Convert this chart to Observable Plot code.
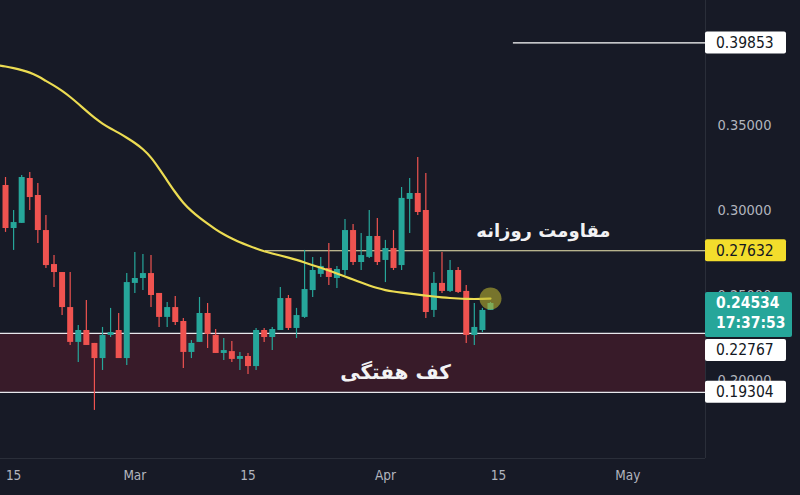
<!DOCTYPE html>
<html>
<head>
<meta charset="utf-8">
<script src="https://cdn.jsdelivr.net/npm/d3@7"></script>
<script src="https://cdn.jsdelivr.net/npm/@observablehq/plot@0.6"></script>
<style>
  html, body { margin: 0; padding: 0; background: #171a26; }
  #chart { width: 800px; height: 495px; overflow: hidden; }
</style>
</head>
<body>
<div id="chart"></div>
<script>
// ---- data ----
const firstDay = "2024-02-14";
const lastDayExclusive = "2024-04-15";
const open  = [0.3147,0.2894,0.2924,0.3188,0.3088,0.2882,0.2682,0.2635,0.2429,0.2224,0.2294,0.2218,0.2129,0.2265,0.2294,0.2129,0.2571,0.2600,0.2629,0.2512,0.2371,0.2429,0.2347,0.2165,0.2224,0.2394,0.2265,0.2159,0.2170,0.2124,0.2141,0.2082,0.2294,0.2253,0.2294,0.2482,0.2306,0.2371,0.2529,0.2624,0.2659,0.2600,0.2647,0.2882,0.2694,0.2724,0.2847,0.2706,0.2776,0.2676,0.3065,0.3100,0.3000,0.2412,0.2571,0.2524,0.2647,0.2524,0.2265,0.2294,0.2412];
const high  = [0.3194,0.3000,0.3206,0.3224,0.3159,0.2971,0.2735,0.2635,0.2635,0.2324,0.2471,0.2218,0.2312,0.2424,0.2394,0.2629,0.2753,0.2741,0.2735,0.2512,0.2459,0.2494,0.2365,0.2235,0.2488,0.2453,0.2300,0.2247,0.2229,0.2165,0.2159,0.2306,0.2306,0.2312,0.2547,0.2500,0.2424,0.2765,0.2724,0.2724,0.2806,0.2671,0.2947,0.2918,0.2865,0.3000,0.2953,0.2824,0.2882,0.3135,0.3188,0.3312,0.3218,0.2635,0.2753,0.2706,0.2665,0.2559,0.2453,0.2424,0.2459];
const low   = [0.2871,0.2765,0.2924,0.3000,0.2806,0.2659,0.2547,0.2382,0.2206,0.2106,0.2206,0.1824,0.2059,0.2253,0.2129,0.2088,0.2512,0.2529,0.2429,0.2312,0.2312,0.2324,0.2071,0.2129,0.2224,0.2188,0.2159,0.2118,0.2106,0.2059,0.2035,0.2059,0.2224,0.2176,0.2294,0.2294,0.2247,0.2365,0.2488,0.2606,0.2559,0.2541,0.2618,0.2676,0.2647,0.2718,0.2676,0.2576,0.2647,0.2647,0.2865,0.2971,0.2365,0.2371,0.2512,0.2518,0.2512,0.2218,0.2206,0.2282,0.2412];
const close = [0.2894,0.2929,0.3194,0.3076,0.2882,0.2676,0.2635,0.2429,0.2224,0.2294,0.2206,0.2129,0.2265,0.2282,0.2129,0.2576,0.2600,0.2629,0.2500,0.2371,0.2429,0.2341,0.2165,0.2218,0.2394,0.2271,0.2159,0.2176,0.2124,0.2141,0.2082,0.2294,0.2253,0.2300,0.2482,0.2306,0.2382,0.2535,0.2647,0.2671,0.2606,0.2653,0.2882,0.2694,0.2735,0.2847,0.2694,0.2776,0.2659,0.3071,0.3100,0.2988,0.2400,0.2571,0.2524,0.2647,0.2518,0.2265,0.2312,0.2412,0.2453];
// moving average (first value is the day before the first candle)
const maStartDay = "2024-02-13";
const ma = [0.3855,0.3847,0.3837,0.3826,0.3812,0.3790,0.3762,0.3735,0.3704,0.3668,0.3628,0.3585,0.3545,0.3510,0.3482,0.3457,0.3428,0.3398,0.3362,0.3314,0.3247,0.3176,0.3106,0.3043,0.2997,0.2957,0.2922,0.2888,0.2859,0.2835,0.2812,0.2794,0.2776,0.2760,0.2747,0.2735,0.2723,0.2710,0.2694,0.2678,0.2663,0.2647,0.2629,0.2611,0.2594,0.2576,0.2559,0.2543,0.2531,0.2523,0.2517,0.2511,0.2505,0.2499,0.2494,0.2489,0.2485,0.2482,0.2480,0.2479,0.2480,0.2482];

// levels
const weeklyFloor = [0.19304, 0.22767];
const dailyResistance = 0.27632;
const resistanceStart = "2024-03-17T04:00Z";
const topLevel = 0.39853;
const topLevelStart = "2024-04-16T20:00Z";
const lastPrice = 0.24534;
const countdown = "17:37:53";

const labels = [
  {text: "مقاومت روزانه", date: "2024-04-20T13:00Z", value: 0.2876, size: 18},
  {text: "کف هفتگی", date: "2024-04-02T06:00Z", value: 0.2047, size: 20}
];

const xTicks = ["2024-02-15","2024-03-01","2024-03-15","2024-04-01","2024-04-15","2024-05-01"];
const yTicks = [0.20, 0.25, 0.30, 0.35];

const xDomain = [new Date("2024-02-13T09:07Z"), new Date("2024-05-10T14:24Z")];
const yDomain = [0.15412, 0.4235];

// ---- build ----
const days = d3.utcDay.range(new Date(firstDay), new Date(lastDayExclusive));
const candles = days.map((d, i) => ({date: d, open: open[i], high: high[i], low: low[i], close: close[i]}));
const maDays = [new Date(maStartDay), ...days];
const maData = maDays.map((d, i) => ({date: d, value: ma[i]}));
const up = "#26a69a", down = "#ef5350";
const colorOf = d => d.close >= d.open ? up : down;
const fontAxis = "'DejaVu Sans Condensed', 'Liberation Sans Narrow', Roboto, sans-serif";

const chart = Plot.plot({
  width: 800,
  height: 495,
  marginLeft: 0,
  marginRight: 95,
  marginTop: 0,
  marginBottom: 37,
  style: {background: "#171a26", color: "#b2b5be", fontFamily: fontAxis, fontSize: "13px"},
  x: {type: "utc", domain: xDomain},
  y: {domain: yDomain},
  marks: [
    Plot.rect([{y1: weeklyFloor[0], y2: weeklyFloor[1]}], {x1: () => xDomain[0], x2: () => xDomain[1], y1: "y1", y2: "y2", fill: "#381b29"}),
    Plot.ruleY(weeklyFloor, {stroke: "#e8e8ec", strokeWidth: 1.3}),
    Plot.ruleY([dailyResistance], {x1: () => new Date(resistanceStart), x2: () => xDomain[1], stroke: "#efe8b0", strokeWidth: 1.2}),
    Plot.ruleY([topLevel], {x1: () => new Date(topLevelStart), x2: () => xDomain[1], stroke: "#ffffff", strokeWidth: 1.2}),
    Plot.ruleY([yDomain[0]], {stroke: "#2a2e39"}),
    Plot.ruleX([xDomain[1]], {stroke: "#2a2e39"}),
    Plot.ruleX(candles, {x: "date", y1: "low", y2: "high", stroke: colorOf, strokeWidth: 1.2}),
    Plot.ruleX(candles, {x: "date", y1: "open", y2: "close", stroke: colorOf, strokeWidth: 6}),
    Plot.line(maData, {x: "date", y: "value", stroke: "#ecdc52", strokeWidth: 2.2, curve: "basis", clip: true}),
    Plot.dot([candles[candles.length - 1]], {x: "date", y: d => ma[ma.length - 1], r: 11, fill: "#b8b030", fillOpacity: 0.6}),
    Plot.text(labels, {x: d => new Date(d.date), y: "value", text: "text", fill: "#f2f2f4", fontWeight: "bold",
      fontSize: d => d.size, fontFamily: "'DejaVu Sans', sans-serif"}),
    Plot.axisX({ticks: xTicks.map(d => new Date(d)), tickSize: 0, tickPadding: 12, fontSize: 13.5,
      tickFormat: d => d.getUTCDate() === 1 ? d3.utcFormat("%b")(d) : String(d.getUTCDate()), fill: "#b2b5be"}),
    Plot.axisY({anchor: "right", ticks: yTicks, tickSize: 0, tickPadding: 12, fontSize: 14.5,
      tickFormat: d3.format(".5f"), fill: "#b2b5be"})
  ]
});
document.getElementById("chart").appendChild(chart);

// price tags on the right scale
const ys = chart.scale("y");
const svg = d3.select(chart);
const tags = [
  {value: topLevel, lines: [d3.format(".5f")(topLevel)], bg: "#ffffff", fg: "#131722", w: 81, bold: false},
  {value: dailyResistance, lines: [d3.format(".5f")(dailyResistance)], bg: "#f3dd2c", fg: "#131722", w: 81, bold: false},
  {value: lastPrice, lines: [d3.format(".5f")(lastPrice), countdown], bg: "#26a69a", fg: "#ffffff", w: 87, bold: true},
  {value: weeklyFloor[1], lines: [d3.format(".5f")(weeklyFloor[1])], bg: "#ffffff", fg: "#131722", w: 81, bold: false},
  {value: weeklyFloor[0], lines: [d3.format(".5f")(weeklyFloor[0])], bg: "#ffffff", fg: "#131722", w: 81, bold: false}
];
const lineH = 20;
let prevBottom = -Infinity;
const g = svg.append("g").attr("text-anchor", "start");
tags.forEach(t => {
  const yp = ys.apply(t.value);
  let top = yp - 11;
  const h = t.lines.length === 1 ? 22 : 45;
  if (top < prevBottom + 2) top = prevBottom + 2;
  prevBottom = top + h;
  g.append("rect").attr("x", 705).attr("y", top).attr("width", t.w).attr("height", h)
    .attr("rx", 2).attr("fill", t.bg);
  t.lines.forEach((s, k) => {
    g.append("text").attr("x", 716).attr("y", top + 11 + k * lineH).attr("dy", "0.36em")
      .attr("text-anchor", "start").attr("font-weight", t.bold ? "bold" : "normal")
      .attr("fill", t.fg).attr("font-size", 15.5).attr("font-family", fontAxis).text(s);
  });
});
</script>
</body>
</html>
